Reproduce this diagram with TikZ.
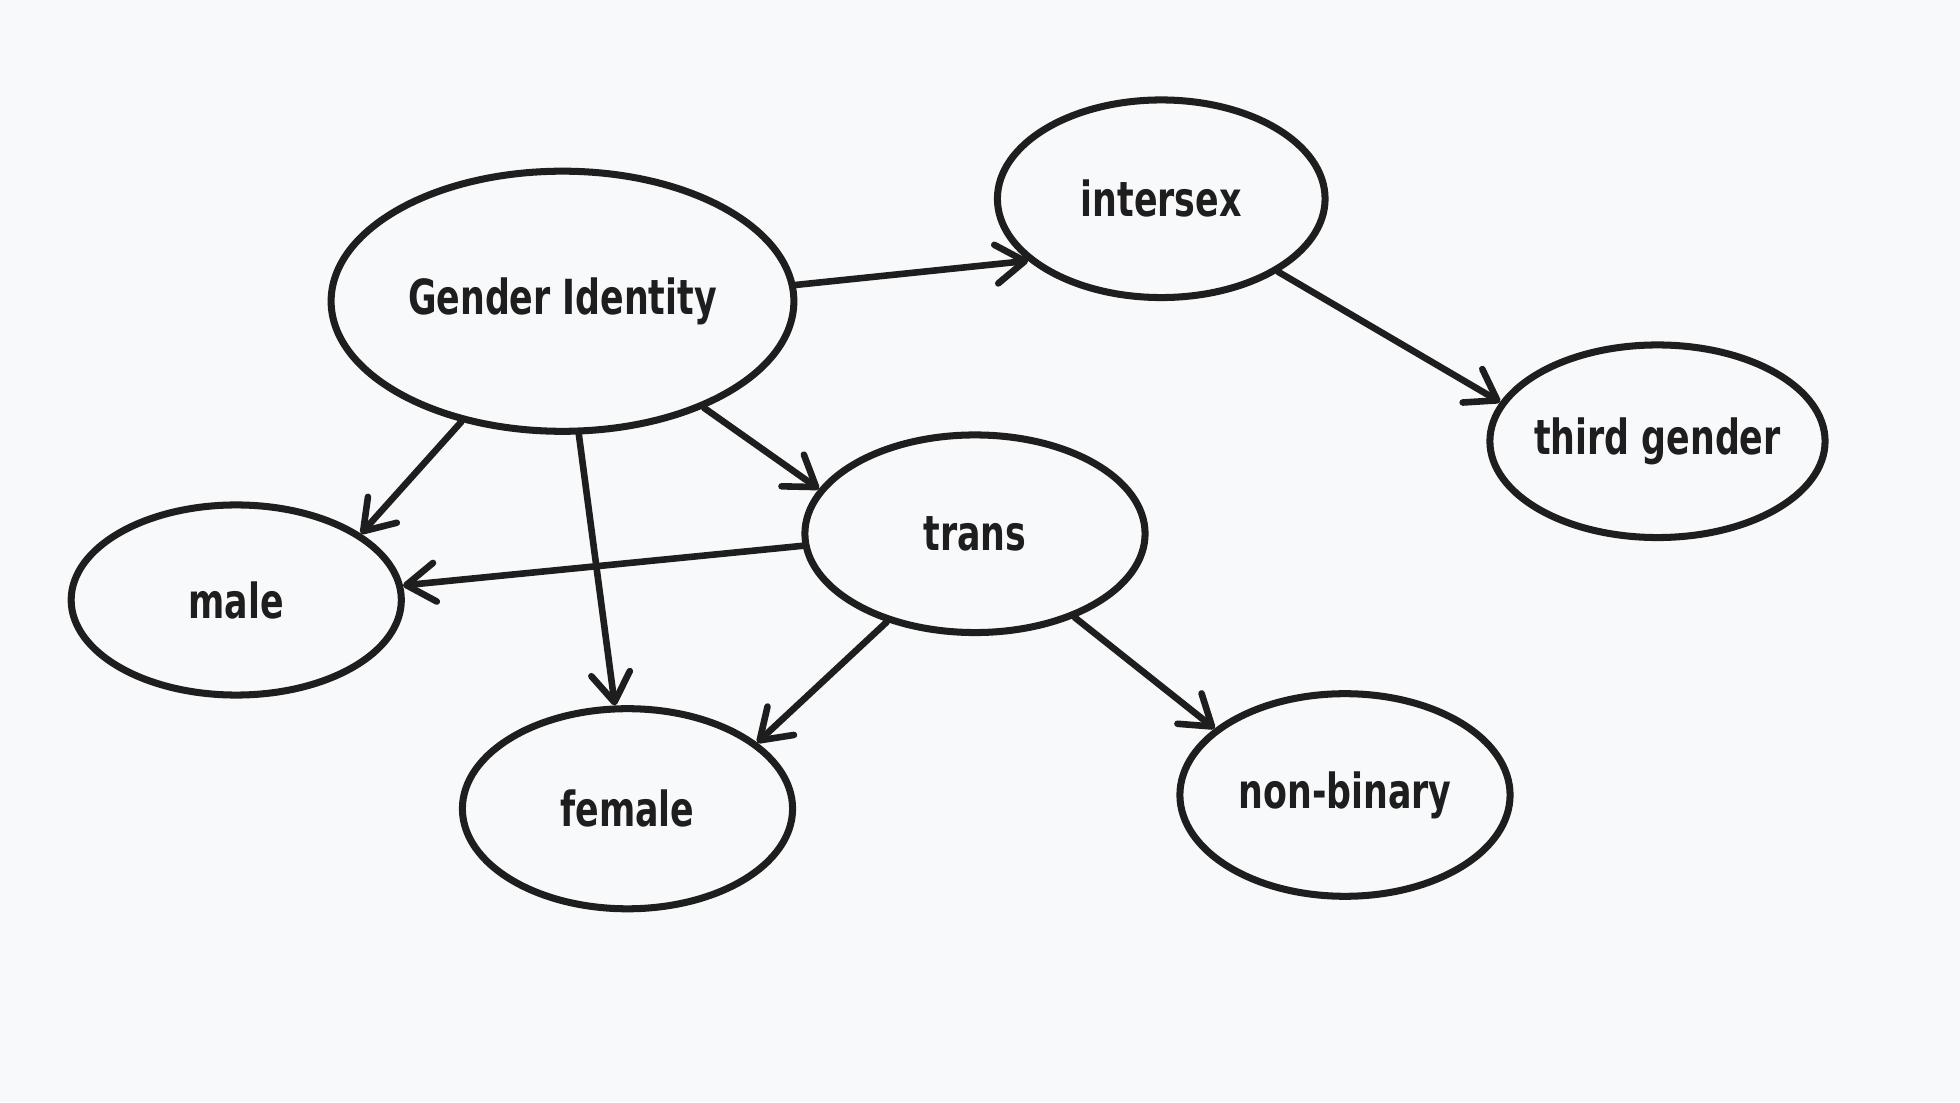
\documentclass[tikz,border=0pt]{standalone}
\usepackage{fontspec}
\setmainfont[FakeStretch=0.8]{DejaVu Sans Condensed}
\usetikzlibrary{shapes.geometric,arrows.meta}
\definecolor{ink}{HTML}{1E1E1E}
\definecolor{paper}{HTML}{F8F9FA}

\tikzset{
  blob/.style={draw=ink,ellipse,line width=1.6pt,inner sep=0pt},
  blobtext/.style={font=\fontsize{11}{12}\selectfont\bfseries,text=ink},
  link/.style={draw=ink,line width=1.5pt,line cap=round,
    -{Straight Barb[length=2.3mm,width=3.1mm,line width=1.5pt,round]}}
}

\begin{document}
\begin{tikzpicture}[x=0.01cm,y=-0.01cm]
          \fill [paper] (0,0) rectangle (1568,882);
          \useasboundingbox (0,0) rectangle (1568,882);

          % the ovals
          \node [blob,minimum width=3.7cm,minimum height=2.08cm,label={[blobtext]center:Gender Identity}] (gi) at (450,241) {};
          \node [blob,minimum width=2.62cm,minimum height=1.58cm,label={[blobtext]center:intersex}] (inter) at (929,159) {};
          \node [blob,minimum width=2.68cm,minimum height=1.54cm,label={[blobtext]center:third gender}] (third) at (1326,353) {};
          \node [blob,minimum width=2.72cm,minimum height=1.58cm,label={[blobtext]center:trans}] (trans) at (780,427) {};
          \node [blob,minimum width=2.64cm,minimum height=1.52cm,label={[blobtext]center:male}] (male) at (189,480) {};
          \node [blob,minimum width=2.64cm,minimum height=1.60cm,label={[blobtext]center:female}] (female) at (502,647) {};
          \node [blob,minimum width=2.64cm,minimum height=1.62cm,label={[blobtext]center:non-binary}] (nonbin) at (1076,636) {};

          % the arrows
          \draw [link] (gi.4) -- (inter.205);
          \draw [link] (inter.328) -- (third.166);
          \draw [link] (gi.230) -- (male.28);
          \draw [link] (gi.277) -- (female.97);
          \draw [link] (gi.323) -- (trans.164);
          \draw [link] (trans.184) -- (male.5);
          \draw [link] (trans.225) -- (female.27);
          \draw [link] (trans.320) -- (nonbin.153);
\end{tikzpicture}
\end{document}
